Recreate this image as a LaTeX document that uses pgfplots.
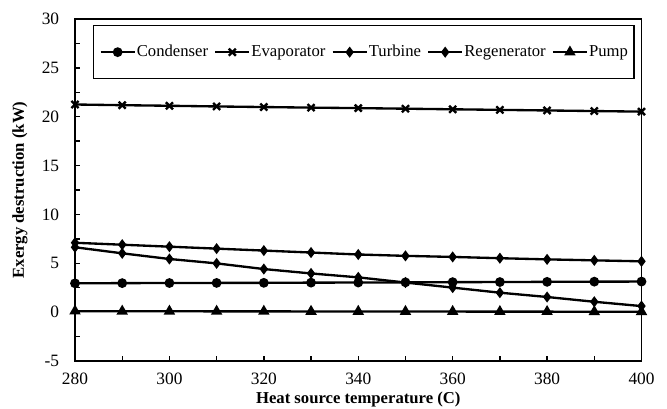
\documentclass[border=0pt]{standalone}
\usepackage{fontspec}
\setmainfont{Liberation Serif}
\usepackage{pgfplots}
\pgfplotsset{compat=1.18}
\begin{document}
\begin{tikzpicture}
\begin{axis}[
  name=main,
  scale only axis, width=339.9pt, height=205.2pt,
  xmin=280, xmax=400, ymin=-5, ymax=30,
  xtick={280,300,...,400}, minor x tick num=1,
  ytick={-5,0,...,30}, yticklabels={-5,0,5,10,15,20,25,30}, minor y tick num=1,
  xtick pos=left, ytick pos=left, tick align=inside,
  major tick length=3pt, minor tick length=3pt,
  every tick/.style={black, line width=0.8pt},
  axis line style={line width=1.1pt},
  /pgf/number format/assume math mode=true,
  tick label style={font=\fontsize{10.4}{12}\selectfont},
  xticklabel style={yshift=-3.8pt},
  yticklabel style={xshift=-6pt},
  xlabel={\textbf{Heat source temperature (C)}},
  ylabel={\textbf{Exergy destruction (kW)}},
  label style={font=\fontsize{10.4}{12}\selectfont},
  every axis x label/.style={at={(axis description cs:0.5,-0.114)}, anchor=center},
  every axis y label/.style={at={(axis description cs:-0.097,0.5)}, anchor=center, rotate=90},
  legend columns=5,
  legend style={at={(axis description cs:0.0318,0.9825)}, anchor=north west, draw=black, line width=0.8pt,
    font=\fontsize{10}{12}\selectfont, inner xsep=3.5pt, inner ysep=0pt,
    nodes={inner xsep=0pt, inner ysep=0pt, text height=18.4pt, text depth=13.4pt}},
  /tikz/every odd column/.append style={column sep=0.6pt},
  /tikz/every even column/.append style={column sep=3.6pt},
  legend image code/.code={\draw[#1] (0pt,0pt) -- (20.4pt,0pt); \draw[#1, mark repeat=1] plot coordinates {(10.2pt,0pt)};},
  every axis plot/.append style={black, line width=1.4pt, mark options={solid, fill=black}},
]
\addplot[mark=*, mark size=2.2pt] coordinates {(280,2.95)(290,2.97)(300,2.98)(310,2.99)(320,3.0)(330,3.02)(340,3.03)(350,3.05)(360,3.07)(370,3.08)(380,3.1)(390,3.12)(400,3.13)};
\addlegendentry{Condenser}
\addplot[mark=x, mark size=3pt] coordinates {(280,21.25)(290,21.18)(300,21.12)(310,21.05)(320,20.99)(330,20.93)(340,20.88)(350,20.82)(360,20.76)(370,20.7)(380,20.64)(390,20.58)(400,20.52)};
\addlegendentry{Evaporator}
\addplot[mark=diamond*, mark size=2.2pt] coordinates {(280,7.1)(290,6.9)(300,6.7)(310,6.5)(320,6.3)(330,6.1)(340,5.9)(350,5.76)(360,5.65)(370,5.52)(380,5.4)(390,5.3)(400,5.2)};
\addlegendentry{Turbine}
\addplot[mark=diamond*, mark size=2.2pt] coordinates {(280,6.64)(290,6.02)(300,5.44)(310,4.99)(320,4.41)(330,3.96)(340,3.56)(350,3.03)(360,2.51)(370,1.99)(380,1.55)(390,1.06)(400,0.62)};
\addlegendentry{Regenerator}
\addplot[mark=triangle*, mark size=2.6pt] coordinates {(280,0.1)(290,0.09)(300,0.09)(310,0.08)(320,0.08)(330,0.07)(340,0.07)(350,0.06)(360,0.06)(370,0.05)(380,0.05)(390,0.04)(400,0.04)};
\addlegendentry{Pump}
\end{axis}
\pgfresetboundingbox
\path ([shift={(-45pt,-28.8pt)}]main.south west) rectangle ([shift={(15.3pt,11.4pt)}]main.north east);
\end{tikzpicture}
\end{document}
